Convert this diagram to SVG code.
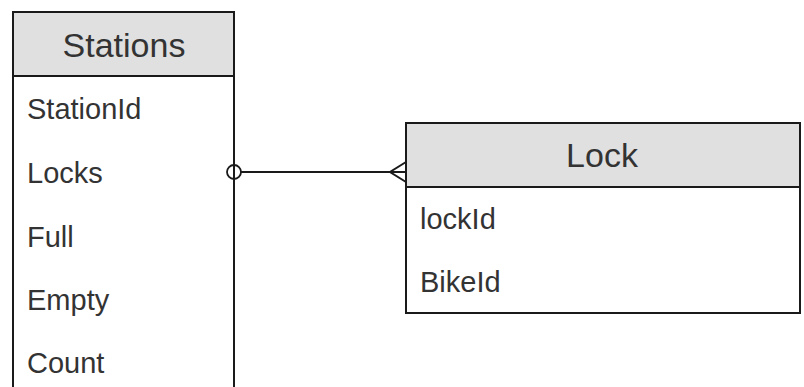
<svg xmlns="http://www.w3.org/2000/svg" width="804" height="387" viewBox="0 0 804 387">
<style>
.box{fill:#fff;stroke:#1a1a1a;stroke-width:2}
.hdr{fill:#e0e0e0;stroke:#1a1a1a;stroke-width:2}
.title{font-family:"Liberation Sans",Arial,sans-serif;font-size:34px;fill:#333;text-anchor:middle}
.attr{font-family:"Liberation Sans",Arial,sans-serif;font-size:29px;fill:#333}
.conn{fill:none;stroke:#1a1a1a;stroke-width:2}
</style>
<rect width="804" height="387" fill="#fff"/>
<g id="stations">
<rect class="box" x="13" y="12" width="221" height="400"/>
<rect class="hdr" x="13" y="12" width="221" height="64"/>
<text class="title" x="124" y="57">Stations</text>
<text class="attr" x="27" y="119">StationId</text>
<text class="attr" x="27" y="183">Locks</text>
<text class="attr" x="27" y="247">Full</text>
<text class="attr" x="27" y="310">Empty</text>
<text class="attr" x="27" y="373">Count</text>
</g>
<g id="lock">
<rect class="box" x="406" y="123" width="394" height="190"/>
<rect class="hdr" x="406" y="123" width="394" height="64"/>
<text class="title" x="602" y="167">Lock</text>
<text class="attr" x="420" y="229">lockId</text>
<text class="attr" x="420" y="292">BikeId</text>
</g>
<g id="connectors">
<line class="conn" x1="241" y1="172" x2="406" y2="172"/>
<circle cx="234" cy="172" r="7" fill="none" stroke="#1a1a1a" stroke-width="1.8"/>
<path class="conn" d="M406 162 L390 172 L406 182"/>
</g>
</svg>
